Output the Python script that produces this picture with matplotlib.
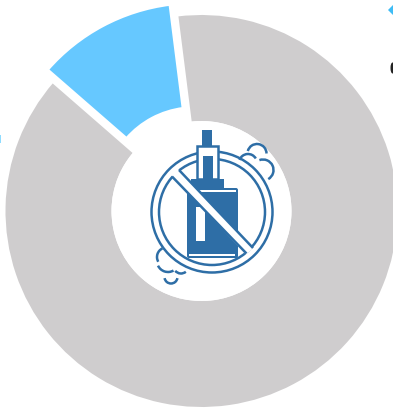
import numpy as np
import matplotlib
matplotlib.use("Agg")
import matplotlib.pyplot as plt
from matplotlib.patches import Arc, Circle, Ellipse, Polygon, Rectangle, FancyBboxPatch

labels = ["", ""]
shares = [11.6, 88.4]
explode = [15, 0]
colors = ["#66c8ff", "#cfcdce"]

ICON = "#2e6ea6"
LW = 1.8

fig = plt.figure(figsize=(3.93, 4.10), dpi=100)

# donut, in pixel-sized data units
ax = fig.add_axes([0, 0, 1, 1])
wedges, _ = ax.pie(shares, labels=labels, explode=explode, colors=colors, startangle=97.2,
                   center=(201.5, 198), radius=197.5,
                   wedgeprops=dict(width=109, linewidth=2.16, edgecolor="white"))
# the pulled-out slice is a little shorter than the ring
wedges[0].set_radius(195)
wedges[0].set_width(105)
ax.set_xlim(0, 393)
ax.set_ylim(0, 410)
ax.set_aspect("auto")
ax.axis("off")

# overlay with y pointing down for the icon
ic = fig.add_axes([0, 0, 1, 1])
ic.set_xlim(-1, 392)
ic.set_ylim(409, -1)
ic.axis("off")
ic.patch.set_alpha(0)

# legend markers cut off by the edge
ic.add_patch(Polygon([(387, 10), (392, 5), (392, 15)], fc="#3fbcf5", ec="none"))
ic.add_patch(Ellipse((391.5, 68), 4, 11, fc="#222222", ec="none"))
ic.add_patch(Rectangle((-1, 135), 1, 8, fc="#8fdcff", ec="none"))

# white disc behind the icon
ic.add_patch(Circle((200.5, 211), 90, fc="white", ec="none"))

# smoke puffs
def arc(cx, cy, r, a, b):
    ic.add_patch(Arc((cx, cy), 2 * r, 2 * r, theta1=a, theta2=b, ec=ICON, lw=LW))

arc(256, 153.5, 9.5, 195, 360)
arc(247, 163, 9, 200, 330)
arc(262, 170, 10.5, 250, 60)
arc(165.5, 257, 9.5, 150, 245)
arc(167, 261, 11, 60, 155)
arc(180, 266, 7.5, 50, 140)
arc(170, 277, 6.5, 10, 170)

# no-entry ring
ic.add_patch(Circle((211, 212), 60.5, fc="none", ec=ICON, lw=LW))
ic.add_patch(Circle((211, 212), 53, fc="white", ec=ICON, lw=LW))

# device
ic.add_patch(Rectangle((200.5, 130), 10.5, 16, fc=ICON, ec="none"))
ic.add_patch(Rectangle((196, 146), 21, 33, fc="white", ec=ICON, lw=LW))
ic.add_patch(Rectangle((202, 156), 9.5, 23, fc=ICON, ec="none"))
ic.add_patch(Rectangle((189.5, 179), 33, 10, fc=ICON, ec="none"))
ic.add_patch(FancyBboxPatch((186, 188), 51, 70, boxstyle="round,pad=0,rounding_size=2",
                            fc=ICON, ec="none"))
ic.add_patch(Rectangle((198, 189.5), 37, 2.5, fc="white", ec="none"))
ic.add_patch(Rectangle((195, 206.5), 8.5, 34.5, fc="white", ec="none"))
ic.add_patch(Rectangle((188, 254), 45.5, 2, fc="white", ec="none"))

# slash across the device
ic.add_patch(Polygon([(168, 173), (175, 167), (252.5, 248), (245, 254.5)], fc="white", ec="none"))
ic.plot([171, 245.5], [176.5, 253.5], color=ICON, lw=LW, solid_capstyle="butt")
ic.plot([178, 252], [170, 248], color=ICON, lw=LW, solid_capstyle="butt")

fig.savefig("out.png", dpi=100, facecolor="white")
